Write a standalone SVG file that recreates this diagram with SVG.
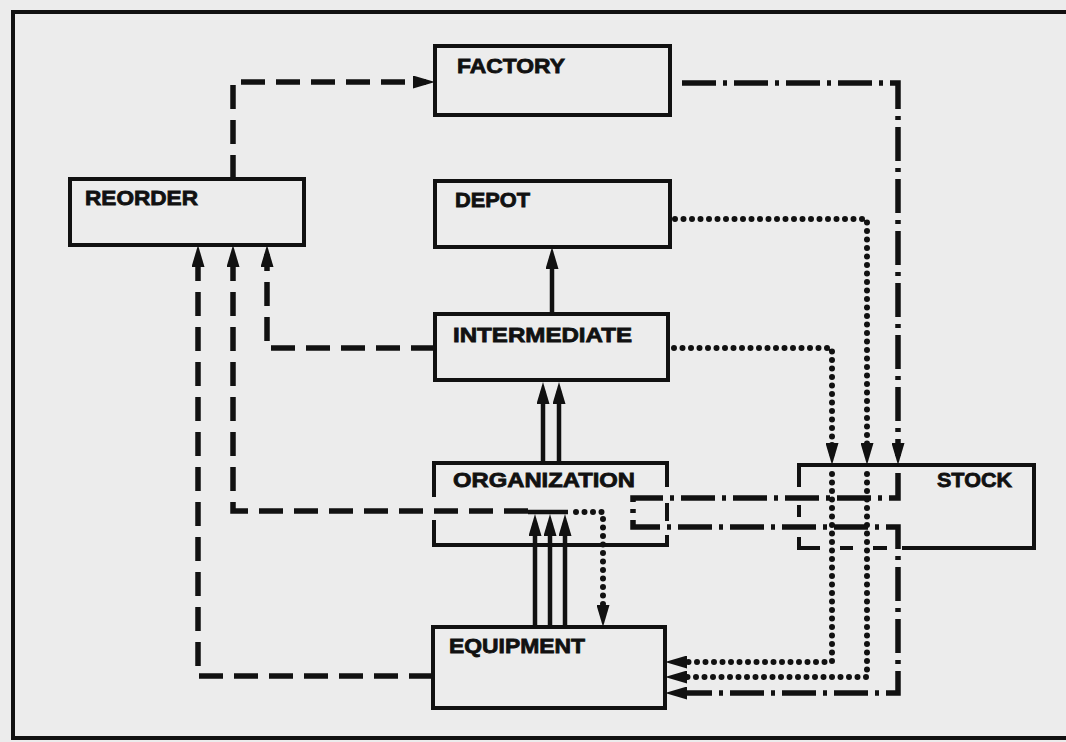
<svg xmlns="http://www.w3.org/2000/svg" width="1066" height="742" viewBox="0 0 1066 742">
<defs>
<style>
.bg{fill:#ececec}
.frame{fill:none;stroke:#111;stroke-width:4}
.box{fill:none;stroke:#111;stroke-width:4;stroke-linejoin:miter}
.lbl{font-family:"Liberation Sans",Arial,sans-serif;font-weight:bold;font-size:21px;fill:#111;stroke:#111;stroke-width:0.8}
.c{fill:none;stroke:#111}
.solid{stroke-width:4.5}
.dash{stroke-width:5.5;stroke-dasharray:24 11}
.dot{stroke-width:6;stroke-dasharray:0 8.5;stroke-linecap:round}
.dd{stroke-width:5.5;stroke-dasharray:34 7 4 7}
</style>
<marker id="ah" markerUnits="userSpaceOnUse" markerWidth="22" markerHeight="13" refX="13" refY="6.5" orient="auto">
<path d="M0,0 L22,6.5 L0,13 z" fill="#111"/>
</marker>
</defs>
<rect class="bg" x="0" y="0" width="1066" height="742"/>
<path class="frame" d="M1066,12 L13,12 L13,738 L1066,738"/>

<g id="factory">
<rect class="box" x="435" y="46" width="235" height="69"/>
<text class="lbl" x="457" y="73" textLength="108" lengthAdjust="spacingAndGlyphs">FACTORY</text>
</g>
<g id="reorder">
<rect class="box" x="70" y="179" width="234" height="66"/>
<text class="lbl" x="85" y="205" textLength="113" lengthAdjust="spacingAndGlyphs">REORDER</text>
</g>
<g id="depot">
<rect class="box" x="435" y="181" width="235" height="66"/>
<text class="lbl" x="455" y="207" textLength="75" lengthAdjust="spacingAndGlyphs">DEPOT</text>
</g>
<g id="intermediate">
<rect class="box" x="435" y="314" width="233" height="66"/>
<text class="lbl" x="453" y="342" textLength="179" lengthAdjust="spacingAndGlyphs">INTERMEDIATE</text>
</g>
<g id="organization">
<path class="box" d="M434,497 L434,463 L667,463 L667,487 M667,503 L667,521 M667,535 L667,545 L434,545 L434,520"/>
<text class="lbl" x="453" y="487" textLength="182" lengthAdjust="spacingAndGlyphs">ORGANIZATION</text>
</g>
<g id="stock">
<path class="box" d="M799,487 L799,465 L1034,465 L1034,548 L902,548 M887,548 L873,548 M853,548 L840,548 M820,548 L799,548 L799,537 M799,505 L799,517"/>
<text class="lbl" x="937" y="487" textLength="75" lengthAdjust="spacingAndGlyphs">STOCK</text>
</g>
<g id="equipment">
<rect class="box" x="433" y="627" width="232" height="81"/>
<text class="lbl" x="449" y="653" textLength="136" lengthAdjust="spacingAndGlyphs">EQUIPMENT</text>
</g>

<g id="connectors">
<path class="c dash" d="M233,179 L233,82 L426,82" marker-end="url(#ah)"/>
<path class="c dd" d="M682,83 L898,83 L898,456" marker-end="url(#ah)"/>
<path class="c dot" d="M675,219 L867,219 L867,456" marker-end="url(#ah)"/>
<path class="c dot" d="M674,348 L832,348 L832,456" marker-end="url(#ah)"/>
<path class="c dot" d="M867,474 L867,677 L674,677" marker-end="url(#ah)"/>
<path class="c dot" d="M832,474 L832,662 L674,662" marker-end="url(#ah)"/>
<path class="c dd" d="M898,473 L898,498 L633,498 L633,527 L898,527 L898,693 L674,693" marker-end="url(#ah)"/>
<path class="c solid" d="M552,314 L552,256" marker-end="url(#ah)"/>
<path class="c solid" d="M543,463 L543,391" marker-end="url(#ah)"/>
<path class="c solid" d="M559,463 L559,391" marker-end="url(#ah)"/>
<path class="c solid" d="M535,627 L535,523" marker-end="url(#ah)"/>
<path class="c solid" d="M550,627 L550,523" marker-end="url(#ah)"/>
<path class="c solid" d="M565,627 L565,523" marker-end="url(#ah)"/>
<path class="c solid" d="M528,512 L568,512"/>
<path class="c dash" d="M435,348 L267,348 L267,254" marker-end="url(#ah)"/>
<path class="c dash" d="M528,511 L233,511 L233,254" marker-end="url(#ah)"/>
<path class="c dash" d="M433,676 L198,676 L198,254" marker-end="url(#ah)"/>
<path class="c dot" d="M576,512 L603,512 L603,618" marker-end="url(#ah)"/>
</g>
</svg>
